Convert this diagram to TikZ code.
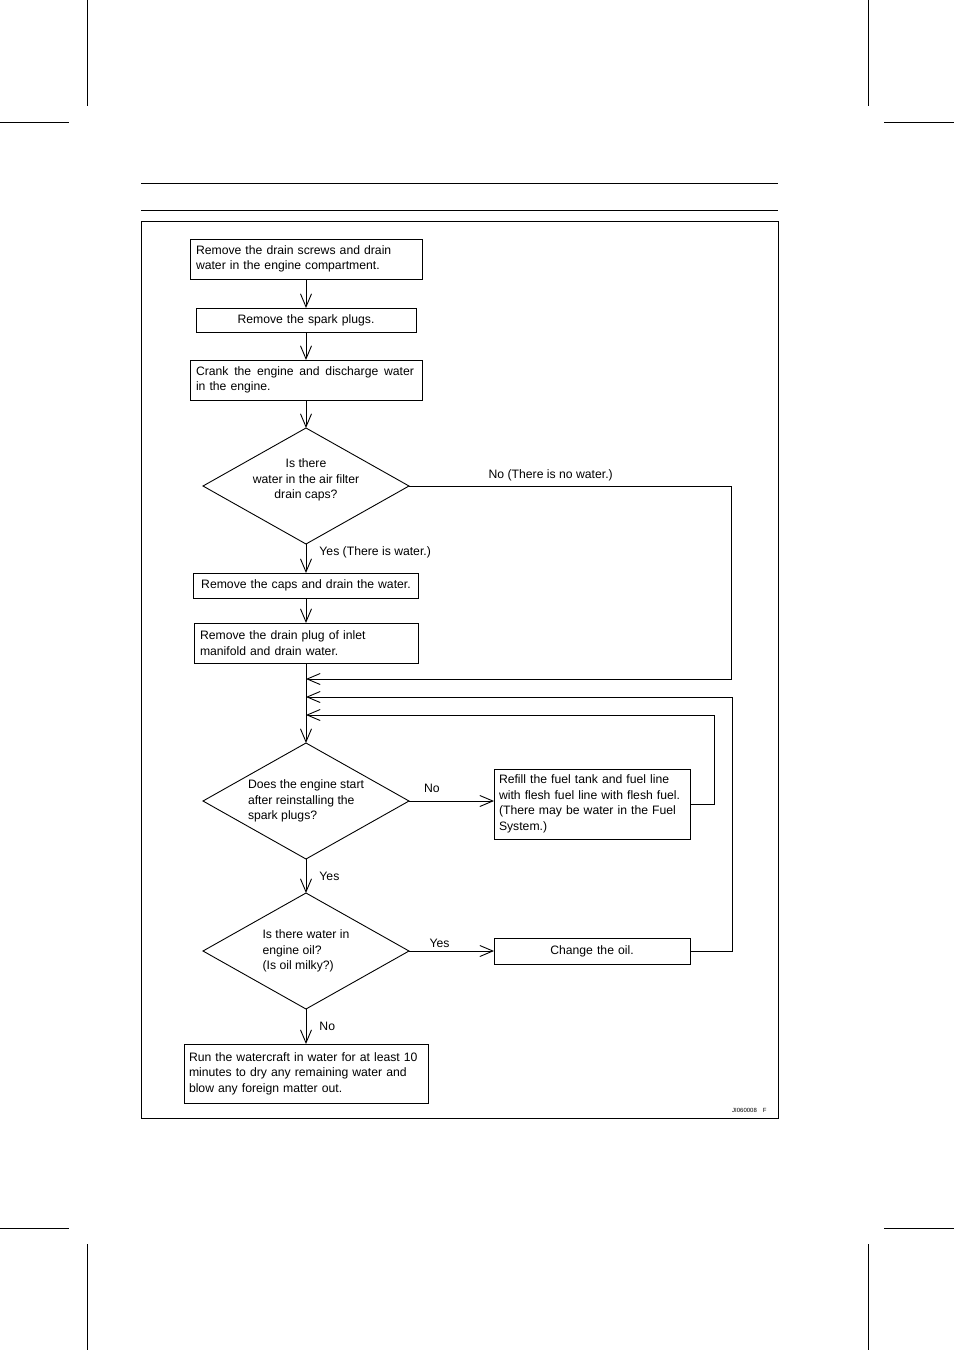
\documentclass[tikz,border=0pt]{standalone}
\usepackage{fontspec}
\setmainfont{Liberation Sans}
\usepackage{tikz}
\usetikzlibrary{arrows.meta,positioning,shapes.geometric}

\begin{document}
\begin{tikzpicture}[x=1pt,y=-1pt,font=\fontsize{12.2}{15.6}\selectfont,
  line width=0.9pt,>={Straight Barb[length=13pt,width=11pt]},
  proc/.style={draw,align=left,inner xsep=6pt,inner ysep=3pt,outer sep=0pt},
  mid/.style={proc,align=center},
  dec/.style={draw,diamond,aspect=1.78,minimum width=206pt,
    minimum height=116pt,inner sep=0pt,outer sep=0pt,align=left},
  lab/.style={inner sep=2pt}]
\useasboundingbox (0,0) rectangle (954,1350);
% page furniture: crop marks, rules, frame
\draw (87,0) -- (87,106); \draw (868,0) -- (868,106);
\draw (0,122) -- (69,122); \draw (884,122) -- (954,122);
\draw (0,1228) -- (69,1228); \draw (884,1228) -- (954,1228);
\draw (87,1244) -- (87,1350); \draw (868,1244) -- (868,1350);
\draw (141,183) -- (778,183); \draw (141,210) -- (778,210);
\draw (141,221) rectangle (778,1118);
\node[font=\fontsize{6}{7}\selectfont,anchor=east,inner sep=0pt] (code) at (767,1110) {JI060008\quad F};
% main column
\node[proc,text width=220pt,minimum height=40pt] (drain) at (306,259)
  {Remove the drain screws and drain\\water in the engine compartment.};
\node[mid,text width=208pt,minimum height=24pt,below=29pt of drain] (plugs)
  {Remove the spark plugs.};
\node[proc,text width=220pt,minimum height=40pt,below=28pt of plugs] (crank)
  {\makebox[218pt][l]{Crank\hfill the\hfill engine\hfill and\hfill discharge\hfill water}\\in the engine.};
\node[dec,below=28pt of crank,
  label={[align=center,yshift=6pt]center:Is there\\water in the air filter\\drain caps?}] (filter) {};
\node[mid,text width=215pt,inner xsep=5pt,minimum height=25pt,below=29pt of filter] (caps)
  {Remove the caps and drain the water.};
\node[proc,text width=212pt,minimum height=40pt,below=25pt of caps] (inlet)
  {Remove the drain plug of inlet\\manifold and drain water.};
\node[dec,below=80pt of inlet] (start)
  {Does the engine start\\after reinstalling the\\spark plugs?};
\node[proc,text width=186pt,inner xsep=5pt,minimum height=70pt,right=85pt of start,yshift=-3pt] (refill)
  {Refill the fuel tank and fuel line\\with flesh fuel line with flesh fuel.\\(There may be water in the Fuel\\System.)};
\node[dec,below=34pt of start] (oilq)
  {Is there water in\\engine oil?\\(Is oil milky?)};
\node[mid,text width=184pt,minimum height=26pt,right=85pt of oilq] (oil)
  {Change the oil.};
\node[proc,text width=234pt,inner xsep=5pt,minimum height=59pt,below=35pt of oilq] (run)
  {Run the watercraft in water for at least 10\\minutes to dry any remaining water and\\blow any foreign matter out.};
% merge points on the return line
\coordinate (m1) at ([yshift=-16pt]inlet.south);
\coordinate (m2) at ([yshift=-34pt]inlet.south);
\coordinate (m3) at ([yshift=-52pt]inlet.south);
% connectors
\draw[->] (drain) -- (plugs);
\draw[->] (plugs) -- (crank);
\draw[->] (crank) -- (filter);
\draw[->] (filter) -- node[lab,right,pos=.28,xshift=11pt]{Yes (There is water.)} (caps);
\draw[->] (caps) -- (inlet);
\draw[->] (inlet) -- (start);
\draw[->] (start.east) -- node[lab,above,pos=.27,yshift=6pt]{No} (start.east -| refill.west);
\draw[->] (start) -- node[lab,right,pos=.5,xshift=11pt]{Yes} (oilq);
\draw[->] (oilq) -- node[lab,above,pos=.36,yshift=1pt]{Yes} (oil);
\draw[->] (oilq) -- node[lab,right,pos=.49,xshift=11pt]{No} (run);
% return loops
\draw[->] (filter.east) -- node[lab,above,pos=.44,yshift=3pt]{No (There is no water.)} ++(322,0) |- (m1);
\draw[->] (oil.east) -- ++(42,0) |- (m2);
\draw[->] (refill.east) -- ++(24,0) |- (m3);
\end{tikzpicture}
\end{document}
